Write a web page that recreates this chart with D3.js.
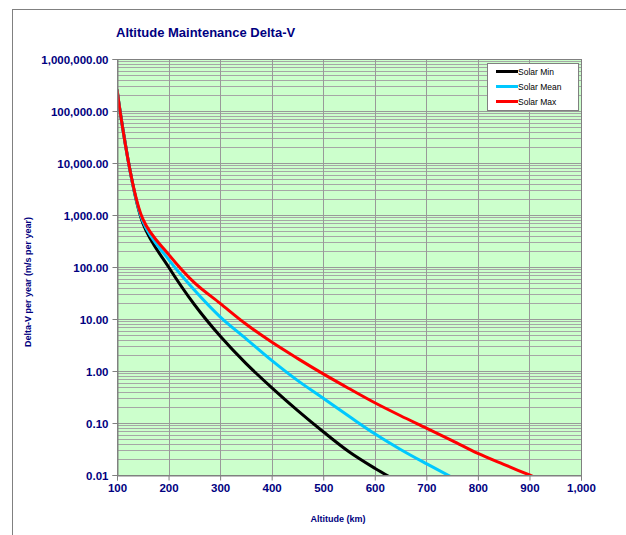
<!DOCTYPE html>
<html>
<head>
<meta charset="utf-8">
<script src="https://cdn.jsdelivr.net/npm/d3@7"></script>
<style>
  body { margin: 0; background: #fff; overflow: hidden; }
  svg { display: block; }
  text { font-family: "Liberation Sans", Arial, sans-serif; }
</style>
</head>
<body>
<div id="chart"></div>
<script>
// Altitude (km) sample points
let altitudes = [100, 150, 200, 250, 300, 350, 400, 450, 500, 550, 600, 650, 700, 750, 800, 850, 900, 950];

// Delta-V per year (m/s per year)
let solarMin  = [260000, 700, 100, 19, 4.7, 1.4, 0.48, 0.175, 0.068, 0.028, 0.0135, 0.007];
let solarMean = [260000, 760, 140, 36, 11, 4.2, 1.6, 0.66, 0.30, 0.135, 0.062, 0.031, 0.0165, 0.009, 0.005];
let solarMax  = [260000, 840, 175, 50, 20, 8.0, 3.6, 1.75, 0.88, 0.46, 0.245, 0.138, 0.08, 0.046, 0.026, 0.016, 0.01, 0.0062];

let seriesNames = ["Solar Min", "Solar Mean", "Solar Max"];
let seriesColors = ["#000000", "#00c8ff", "#ff0000"];

let xTicks = [100, 200, 300, 400, 500, 600, 700, 800, 900, 1000];
let yTicks = [0.01, 0.1, 1, 10, 100, 1000, 10000, 100000, 1000000];

let w = 626;
let h = 535;
let navy = "#000080";

let svg = d3.select("#chart")
  .append("svg")
  .attr("width", w)
  .attr("height", h);

// outer chart frame
svg.append("rect")
  .attr("x", 12.5).attr("y", 9.5)
  .attr("width", 700).attr("height", 600)
  .attr("fill", "white")
  .attr("stroke", "#808080");

let pLeft = 117, pRight = 581, pTop = 59, pBottom = 475;

let x = d3.scaleLinear().domain([100, 1000]).range([pLeft, pRight]);
let y = d3.scaleLog().domain([0.01, 1000000]).range([pBottom, pTop]);

// plot background
svg.append("rect")
  .attr("x", pLeft).attr("y", pTop)
  .attr("width", pRight - pLeft).attr("height", pBottom - pTop)
  .attr("fill", "#ccffcc");

// minor horizontal grid (2..9 of each decade)
let minor = [];
for (let e = -2; e < 6; e++) {
  for (let m = 2; m <= 9; m++) minor.push(m * Math.pow(10, e));
}
svg.append("g").selectAll("line")
  .data(minor)
  .join("line")
  .attr("x1", pLeft).attr("x2", pRight)
  .attr("y1", d => Math.round(y(d)) + 0.5)
  .attr("y2", d => Math.round(y(d)) + 0.5)
  .attr("stroke", "#a6a6a6")
  .attr("stroke-width", 1);

// major horizontal grid
svg.append("g").selectAll("line")
  .data(yTicks)
  .join("line")
  .attr("x1", pLeft).attr("x2", pRight)
  .attr("y1", d => Math.round(y(d)) + 0.5)
  .attr("y2", d => Math.round(y(d)) + 0.5)
  .attr("stroke", "#999999");

// vertical grid
svg.append("g").selectAll("line")
  .data(xTicks)
  .join("line")
  .attr("y1", pTop).attr("y2", pBottom)
  .attr("x1", d => Math.round(x(d)) + 0.5)
  .attr("x2", d => Math.round(x(d)) + 0.5)
  .attr("stroke", "#999999");

// series lines
let clip = svg.append("defs").append("clipPath").attr("id", "plotclip");
clip.append("rect")
  .attr("x", pLeft).attr("y", pTop)
  .attr("width", pRight - pLeft).attr("height", pBottom - pTop);

let series = [solarMin, solarMean, solarMax];
let line = d3.line()
  .x((d, i) => x(altitudes[i]))
  .y(d => y(d))
  .curve(d3.curveCatmullRom.alpha(0.5));

svg.append("g")
  .attr("clip-path", "url(#plotclip)")
  .selectAll("path")
  .data(series)
  .join("path")
  .attr("d", d => line(d))
  .attr("fill", "none")
  .attr("stroke", (d, i) => seriesColors[i])
  .attr("stroke-width", 3)
  .attr("stroke-linejoin", "round");

// plot border
svg.append("rect")
  .attr("x", pLeft + 0.5).attr("y", pTop + 0.5)
  .attr("width", pRight - pLeft).attr("height", pBottom - pTop)
  .attr("fill", "none")
  .attr("stroke", "#808080");

// axes
let fmtY = d3.format(",.2f");
let yAxis = svg.append("g")
  .attr("transform", `translate(${pLeft + 0.5},0)`)
  .call(d3.axisLeft(y).tickValues(yTicks).tickFormat(fmtY).tickSize(5).tickPadding(4));
let xAxis = svg.append("g")
  .attr("transform", `translate(0,${pBottom + 0.5})`)
  .call(d3.axisBottom(x).tickValues(xTicks).tickFormat(d3.format(",")).tickSize(5).tickPadding(3));

for (let ax of [yAxis, xAxis]) {
  ax.select(".domain").attr("stroke", "#808080");
  ax.selectAll(".tick line").attr("stroke", "#808080");
  ax.selectAll(".tick text")
    .attr("fill", navy)
    .style("font-family", "'Liberation Sans', Arial, sans-serif")
    .style("font-size", "11.5px")
    .style("font-weight", "bold");
}
yAxis.selectAll(".tick text").attr("dy", "0.36em");

// title and axis titles
svg.append("text")
  .attr("x", 116).attr("y", 37)
  .attr("fill", navy)
  .style("font-size", "13px")
  .style("font-weight", "bold")
  .text("Altitude Maintenance Delta-V");

svg.append("text")
  .attr("x", 338).attr("y", 522)
  .attr("text-anchor", "middle")
  .attr("fill", navy)
  .style("font-size", "9px")
  .style("font-weight", "bold")
  .text("Altitude (km)");

svg.append("text")
  .attr("transform", "translate(31,282) rotate(-90)")
  .attr("text-anchor", "middle")
  .attr("fill", navy)
  .style("font-size", "9px")
  .style("font-weight", "bold")
  .text("Delta-V per year (m/s per year)");

// legend
let legend = svg.append("g");
legend.append("rect")
  .attr("x", 487.5).attr("y", 63.5)
  .attr("width", 91).attr("height", 47)
  .attr("fill", "white")
  .attr("stroke", "#808080");

let items = legend.selectAll("g.item")
  .data(seriesNames)
  .join("g")
  .attr("class", "item")
  .attr("transform", (d, i) => `translate(0,${71.5 + i * 15})`);

items.append("line")
  .attr("x1", 496).attr("x2", 518)
  .attr("stroke", (d, i) => seriesColors[i])
  .attr("stroke-width", 3);

items.append("text")
  .attr("x", 518).attr("y", 3)
  .attr("fill", "black")
  .style("font-size", "8.5px")
  .text(d => d);
</script>
</body>
</html>
